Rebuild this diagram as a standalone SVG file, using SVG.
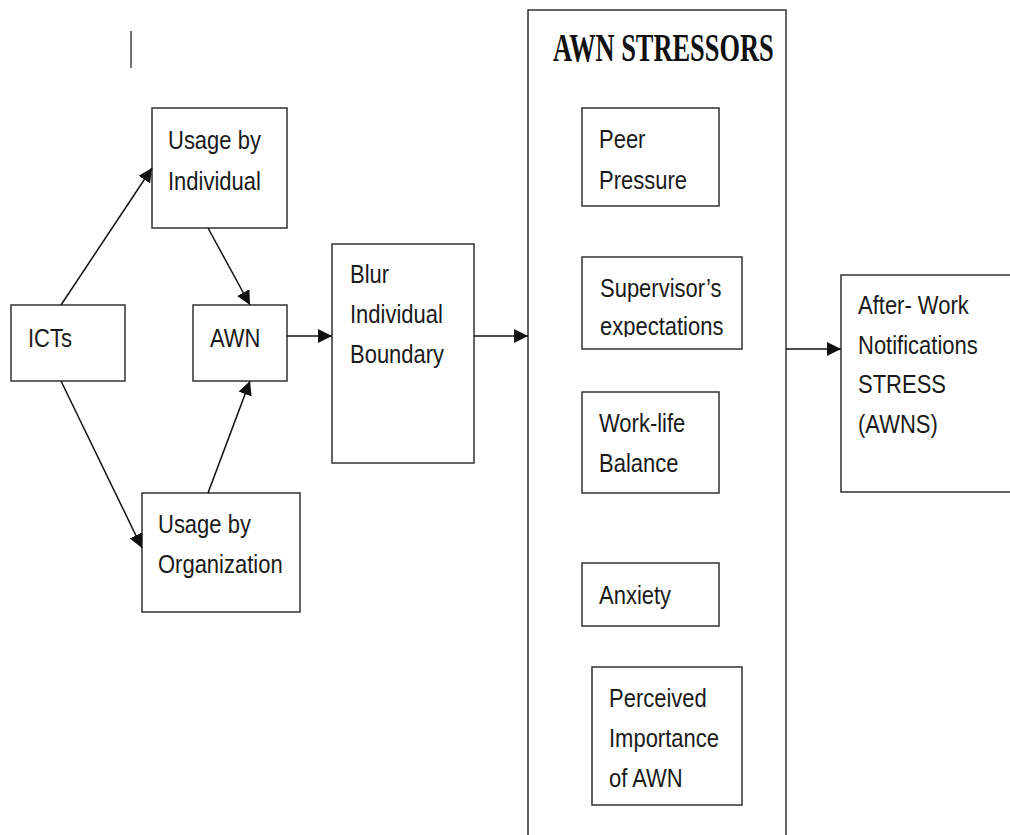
<svg xmlns="http://www.w3.org/2000/svg" width="1010" height="835" viewBox="0 0 1010 835">
  <style>
    .box { fill: #ffffff; stroke: #333333; stroke-width: 1.5; }
    .lbl { font-family: "Liberation Sans", Arial, sans-serif; font-size: 22px; fill: #1a1a1a; }
    .title { font-family: "Liberation Serif", "Times New Roman", serif; font-size: 26.4px; font-weight: bold; fill: #111111; }
    .conn { stroke: #111111; stroke-width: 1.5; fill: none; marker-end: url(#arrow); }
  </style>
  <defs>
    <marker id="arrow" markerUnits="userSpaceOnUse" markerWidth="14" markerHeight="14" refX="14" refY="7" orient="auto">
      <path d="M0,0 L14,7 L0,14 z" fill="#111111"/>
    </marker>
    <clipPath id="supClip">
      <rect x="582" y="257" width="160" height="80"/>
    </clipPath>
  </defs>
  <rect width="1010" height="835" fill="#ffffff"/>

  <!-- stray cursor stroke -->
  <line x1="131" y1="31" x2="131" y2="68" stroke="#444444" stroke-width="1.5"/>

  <!-- AWN stressors container -->
  <g id="stressors">
    <rect class="box" x="528" y="10" width="258" height="850"/>
    <text class="title" transform="translate(553,61) scale(1,1.5)">AWN STRESSORS</text>
  </g>

  <g id="icts">
    <rect class="box" x="11" y="305" width="114" height="76"/>
    <text class="lbl" transform="translate(28,347) scale(1,1.2)">ICTs</text>
  </g>

  <g id="usage-individual">
    <rect class="box" x="152" y="108" width="135" height="120"/>
    <text class="lbl" transform="translate(168,149) scale(1,1.2)"><tspan x="0" y="0">Usage by</tspan><tspan x="0" dy="34">Individual</tspan></text>
  </g>

  <g id="awn">
    <rect class="box" x="193" y="305" width="94" height="76"/>
    <text class="lbl" transform="translate(210,347) scale(1,1.2)">AWN</text>
  </g>

  <g id="usage-organization">
    <rect class="box" x="142" y="493" width="158" height="119"/>
    <text class="lbl" transform="translate(158,533) scale(1,1.2)"><tspan x="0" y="0">Usage by</tspan><tspan x="0" dy="33.3">Organization</tspan></text>
  </g>

  <g id="blur-boundary">
    <rect class="box" x="332" y="244" width="142" height="219"/>
    <text class="lbl" transform="translate(350,283) scale(1,1.2)"><tspan x="0" y="0">Blur</tspan><tspan x="0" dy="33.3">Individual</tspan><tspan x="0" dy="33">Boundary</tspan></text>
  </g>

  <g id="peer-pressure">
    <rect class="box" x="582" y="108" width="137" height="98"/>
    <text class="lbl" transform="translate(599,148) scale(1,1.2)"><tspan x="0" y="0">Peer</tspan><tspan x="0" dy="34">Pressure</tspan></text>
  </g>

  <g id="supervisor">
    <rect class="box" x="582" y="257" width="160" height="92"/>
    <g clip-path="url(#supClip)">
      <text class="lbl" transform="translate(600,297) scale(1,1.2)"><tspan x="0" y="0">Supervisor’s</tspan><tspan x="0" dy="32">expectations</tspan></text>
    </g>
  </g>

  <g id="work-life">
    <rect class="box" x="582" y="392" width="137" height="101"/>
    <text class="lbl" transform="translate(599,432) scale(1,1.2)"><tspan x="0" y="0">Work-life</tspan><tspan x="0" dy="33.3">Balance</tspan></text>
  </g>

  <g id="anxiety">
    <rect class="box" x="582" y="563" width="137" height="63"/>
    <text class="lbl" transform="translate(599,604) scale(1,1.2)">Anxiety</text>
  </g>

  <g id="perceived-importance">
    <rect class="box" x="592" y="667" width="150" height="138"/>
    <text class="lbl" transform="translate(609,707) scale(1,1.2)"><tspan x="0" y="0">Perceived</tspan><tspan x="0" dy="33.3">Importance</tspan><tspan x="0" dy="33.3">of AWN</tspan></text>
  </g>

  <g id="awns">
    <rect class="box" x="841" y="275" width="200" height="217"/>
    <text class="lbl" transform="translate(858,314) scale(1,1.2)"><tspan x="0" y="0">After- Work</tspan><tspan x="0" dy="33.3">Notifications</tspan><tspan x="0" dy="32.5">STRESS</tspan><tspan x="0" dy="33">(AWNS)</tspan></text>
  </g>

  <!-- connectors -->
  <g id="connectors">
    <line class="conn" x1="61" y1="305" x2="152" y2="168"/>
    <line class="conn" x1="61" y1="381" x2="142" y2="548"/>
    <line class="conn" x1="208" y1="228" x2="250" y2="305"/>
    <line class="conn" x1="208" y1="493" x2="250" y2="381"/>
    <line class="conn" x1="287" y1="336" x2="332" y2="336"/>
    <line class="conn" x1="474" y1="336" x2="528" y2="336"/>
    <line class="conn" x1="786" y1="349" x2="841" y2="349"/>
  </g>
</svg>
